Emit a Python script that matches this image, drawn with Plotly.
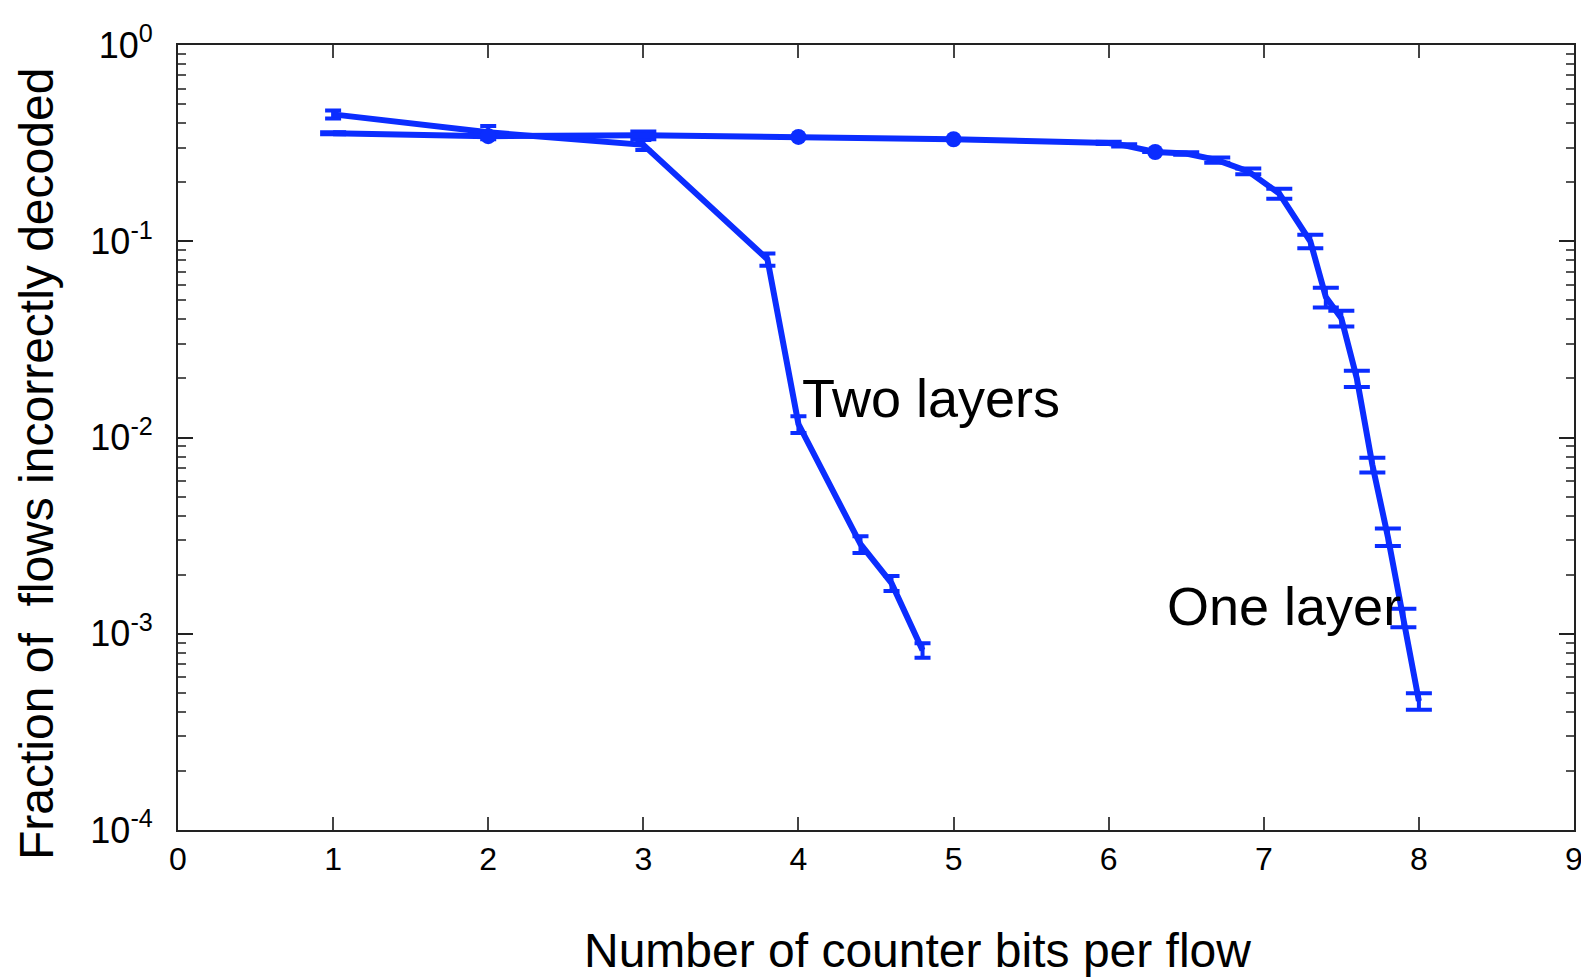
import math
import plotly.graph_objects as go

# ---- data ----
two_x = [1, 2, 3, 3.8, 4.0, 4.4, 4.6, 4.8]
two_y = [0.443, 0.359, 0.31, 0.0809, 0.0117, 0.00286, 0.00181, 0.000825]
two_err = [0.021, 0.028, 0.018, 0.0058, 0.00115, 0.00028, 0.00016, 0.00007]

one_x = [1, 2, 3, 4, 5, 6.0, 6.1, 6.3, 6.5, 6.7, 6.9, 7.1, 7.3, 7.4, 7.5, 7.6, 7.7, 7.8, 7.9, 8.0]
one_y = [0.355, 0.343, 0.347, 0.340, 0.331, 0.317, 0.308, 0.285, 0.28, 0.259, 0.227, 0.175,
         0.10, 0.052, 0.0405, 0.020, 0.00726, 0.00312, 0.00121, 0.000454]
one_err = [0.004, 0.0, 0.0156, 0.0, 0.0, 0.004, 0.004, 0.0, 0.004, 0.008, 0.0075, 0.0103,
           0.008, 0.006, 0.0037, 0.0019, 0.00062, 0.00032, 0.00013, 0.000044]
one_marker_size = [0, 16, 0, 16, 16, 0, 0, 16, 0, 0, 0, 0, 0, 0, 0, 0, 0, 0, 0, 0]

x_ticks = [0, 1, 2, 3, 4, 5, 6, 7, 8, 9]
y_ticks = [1e-4, 1e-3, 1e-2, 1e-1, 1]
y_tick_text = ["10<sup>-4</sup>", "10<sup>-3</sup>", "10<sup>-2</sup>", "10<sup>-1</sup>", "10<sup>0</sup>"]
y_minor = [k * 10.0 ** e for e in range(-4, 0) for k in range(2, 10)]

labels = [("Two layers", 4.01, 0.0159), ("One layer", 6.36, 0.00139)]
x_title = "Number of counter bits per flow"
y_title = "Fraction of \u00a0flows incorrectly decoded"

BLUE = "#0B2DFF"
FONT = "Liberation Sans, Arial, Helvetica, sans-serif"

# page body has an 8px default margin: the figure starts at (8, 8) in the window
OFF = 8
W, H = 1589 - OFF, 979 - OFF
L, T = 178 - OFF, 45 - OFF
R = W - (1574 - OFF)
B = H - (830 - OFF)
pw, ph = W - L - R, H - T - B


def px_to_paper(px, py):
    return ((px - OFF) - L) / pw, (H - B - (py - OFF)) / ph


fig = go.Figure()
fig.add_trace(go.Scatter(
    x=two_x, y=two_y, mode="lines",
    line=dict(color=BLUE, width=6),
    error_y=dict(type="data", array=two_err, visible=True, color=BLUE, thickness=4, width=8),
    showlegend=False,
))
fig.add_trace(go.Scatter(
    x=one_x, y=one_y, mode="lines+markers",
    line=dict(color=BLUE, width=6),
    marker=dict(color=BLUE, size=one_marker_size, symbol="circle", opacity=1,
                line=dict(width=0)),
    error_y=dict(type="data", array=one_err, visible=True, color=BLUE, thickness=4, width=13),
    showlegend=False,
))

for text, lx, ly in labels:
    fig.add_annotation(x=lx, y=math.log10(ly), xref="x", yref="y", text=text,
                       showarrow=False, xanchor="left", yanchor="middle",
                       font=dict(family=FONT, size=54, color="black"))

xt_x, xt_y = px_to_paper(917, 950)
fig.add_annotation(x=xt_x, y=xt_y, xref="paper", yref="paper", text=x_title,
                   showarrow=False, xanchor="center", yanchor="middle",
                   font=dict(family=FONT, size=48, color="black"))
yt_x, yt_y = px_to_paper(36, 464)
fig.add_annotation(x=yt_x, y=yt_y, xref="paper", yref="paper", text=y_title, textangle=-90,
                   showarrow=False, xanchor="center", yanchor="middle",
                   font=dict(family=FONT, size=48, color="black"))

fig.update_layout(
    width=W, height=H,
    paper_bgcolor="white", plot_bgcolor="white",
    margin=dict(l=L, r=R, t=T, b=B, autoexpand=False),
    font=dict(family=FONT, color="black"),
    xaxis=dict(
        range=[0, 9], tickvals=x_ticks, ticktext=[str(v) for v in x_ticks],
        ticks="inside", ticklen=13, tickwidth=1.5, tickcolor="#444",
        showline=True, linecolor="#222", linewidth=2, mirror="allticks",
        showgrid=False, zeroline=False, automargin=False,
        ticklabelstandoff=0, ticklabeloverflow="allow",
        tickfont=dict(family=FONT, size=32, color="black"),
    ),
    yaxis=dict(
        type="log", range=[-4, 0], tickvals=y_ticks, ticktext=y_tick_text,
        ticks="inside", ticklen=15, tickwidth=1.5, tickcolor="#222",
        minor=dict(tickvals=y_minor, ticks="inside", ticklen=8, tickwidth=1.5, tickcolor="#555"),
        showline=True, linecolor="#222", linewidth=2, mirror="allticks",
        showgrid=False, zeroline=False, automargin=False,
        ticklabelstandoff=16, ticklabeloverflow="allow",
        tickfont=dict(family=FONT, size=36, color="black"),
    ),
)

fig.write_html("out.html")
